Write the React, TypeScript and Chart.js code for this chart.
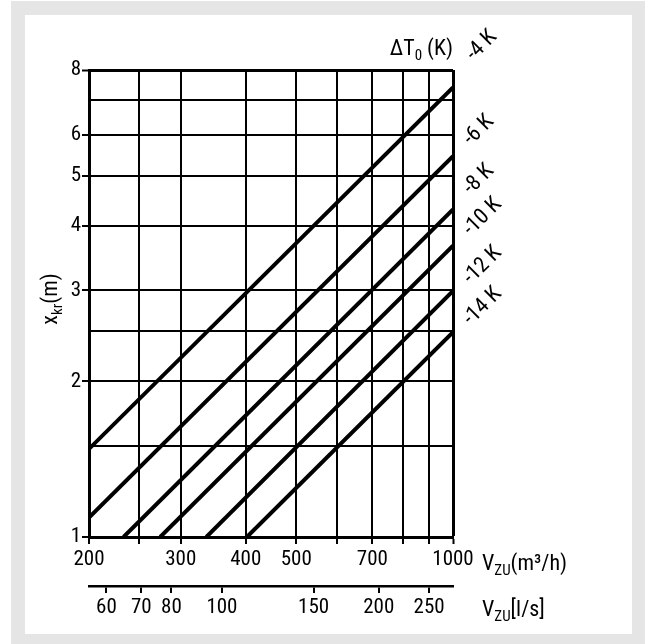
import React, { useEffect, useRef } from "react";
import { Chart, registerables } from "chart.js";

Chart.register(...registerables);

// ---- data ----
const deltaLabels = ["-4 K", "-6 K", "-8 K", "-10 K", "-12 K", "-14 K"];
const flowStart = [200, 200, 233, 274, 336, 402]; // m³/h
const xkrStart = [1.48, 1.09, 1, 1, 1, 1]; // m
const flowEnd = [1000, 1000, 1000, 1000, 1000, 1000]; // m³/h
const xkrEnd = [7.4, 5.45, 4.3, 3.66, 2.99, 2.49]; // m

const flowTicks = [200, 250, 300, 400, 500, 600, 700, 800, 900, 1000];
const flowLabels = [200, 300, 400, 500, 700, 1000];
const xkrTicks = [1, 1.5, 2, 2.5, 3, 4, 5, 6, 7, 8];
const xkrLabels = [1, 2, 3, 4, 5, 6, 8];
const lsTicks = [60, 70, 80, 100, 150, 200, 250];
const M3H_PER_LS = 3.6;
const FLOW_MIN = 200;
const FLOW_MAX = 1000;
const XKR_MIN = 1;
const XKR_MAX = 8;

const FONT = "'Roboto Condensed', 'Liberation Sans Narrow', 'DejaVu Sans Condensed', sans-serif";
const FS = 21;
const TS = 22;

type Part = { t: string; sub?: boolean };

function drawRich(ctx: CanvasRenderingContext2D, parts: Part[], x: number, yMid: number, align: "left" | "right" | "center") {
  const main = `${TS}px ${FONT}`;
  const small = `${Math.round(TS * 0.68)}px ${FONT}`;
  let total = 0;
  const widths = parts.map((p) => {
    ctx.font = p.sub ? small : main;
    const w = ctx.measureText(p.t).width;
    total += w;
    return w;
  });
  let cx = align === "left" ? x : align === "right" ? x - total : x - total / 2;
  const base = yMid + TS * 0.36;
  ctx.textAlign = "left";
  ctx.textBaseline = "alphabetic";
  parts.forEach((p, i) => {
    ctx.font = p.sub ? small : main;
    ctx.fillText(p.t, cx, base + (p.sub ? TS * 0.24 : 0));
    cx += widths[i];
  });
}

const LABEL_DX = [17, 14, 14, 14, 14, 14];
const LABEL_DY = [-30, -14, -18, -13, -10, -10];

const annotate = {
  id: "annotate",
  afterDraw(chart: any) {
    const { ctx, chartArea, scales } = chart;
    const yS = scales.y;
    ctx.save();
    ctx.fillStyle = "#000";
    drawRich(ctx, [{ t: "\u0394T" }, { t: "0", sub: true }, { t: " (K)" }], chartArea.right, 47, "right");
    drawRich(ctx, [{ t: "V" }, { t: "ZU", sub: true }, { t: "(m\u00B3/h)" }], chartArea.right + 29, 562, "left");
    drawRich(ctx, [{ t: "V" }, { t: "ZU", sub: true }, { t: "[l/s]" }], chartArea.right + 29, 608, "left");
    ctx.save();
    ctx.translate(49, 299);
    ctx.rotate(-Math.PI / 2);
    drawRich(ctx, [{ t: "x" }, { t: "kr", sub: true }, { t: "(m)" }], 0, 0, "center");
    ctx.restore();
    deltaLabels.forEach((lab, i) => {
      const px = chartArea.right + LABEL_DX[i];
      const py = yS.getPixelForValue(xkrEnd[i]) + LABEL_DY[i];
      ctx.save();
      ctx.translate(px, py);
      ctx.rotate(-Math.PI / 4);
      ctx.font = `${TS}px ${FONT}`;
      ctx.textAlign = "left";
      ctx.textBaseline = "middle";
      ctx.fillText(lab, 0, 0);
      ctx.restore();
    });
    ctx.restore();
  },
};

export default function App() {
  const ref = useRef<HTMLCanvasElement | null>(null);
  useEffect(() => {
    if (!ref.current) return;
    const datasets = deltaLabels.map((lab, i) => ({
      label: lab,
      data: [
        { x: flowStart[i], y: xkrStart[i] },
        { x: flowEnd[i], y: xkrEnd[i] },
      ],
      borderColor: "#000",
      backgroundColor: "#000",
      borderWidth: 4,
      pointRadius: 0,
      xAxisID: "x",
      yAxisID: "y",
    }));
    const tickFont = { family: FONT, size: FS };
    const chart = new Chart(ref.current, {
      type: "line",
      data: { datasets },
      plugins: [annotate],
      options: {
        responsive: false,
        animation: false,
        devicePixelRatio: 1,
        layout: { padding: { top: 70, left: 0, right: 195, bottom: 18 } },
        plugins: { legend: { display: false }, tooltip: { enabled: false } },
        scales: {
          x: {
            type: "logarithmic",
            position: "bottom",
            weight: 0,
            min: FLOW_MIN,
            max: FLOW_MAX,
            afterBuildTicks: (s: any) => {
              s.ticks = flowTicks.map((v) => ({ value: v }));
            },
            afterFit: (s: any) => {
              s.height = 49;
            },
            ticks: {
              autoSkip: false,
              maxRotation: 0,
              color: "#000",
              font: tickFont,
              padding: 3,
              callback: (v: any) => (flowLabels.includes(Number(v)) ? String(v) : ""),
            },
            grid: {
              color: "#000",
              lineWidth: (c: any) => (c.tick && c.tick.value === FLOW_MAX ? 3 : 2),
              tickLength: 7,
              tickWidth: 2,
            },
            border: { color: "#000", width: 3 },
          },
          x2: {
            type: "logarithmic",
            position: "bottom",
            weight: 1,
            min: FLOW_MIN / M3H_PER_LS,
            max: FLOW_MAX / M3H_PER_LS,
            afterBuildTicks: (s: any) => {
              s.ticks = lsTicks.map((v) => ({ value: v }));
            },
            afterFit: (s: any) => {
              s.height = 40;
            },
            ticks: {
              autoSkip: false,
              maxRotation: 0,
              color: "#000",
              font: tickFont,
              padding: 2,
              callback: (v: any) => String(v),
            },
            grid: { drawOnChartArea: false, color: "#000", lineWidth: 2, tickLength: 7 },
            border: { color: "#000", width: 2.5 },
          },
          y: {
            type: "logarithmic",
            position: "left",
            min: XKR_MIN,
            max: XKR_MAX,
            afterBuildTicks: (s: any) => {
              s.ticks = xkrTicks.map((v) => ({ value: v }));
            },
            afterFit: (s: any) => {
              s.width = 89;
            },
            ticks: {
              autoSkip: false,
              color: "#000",
              font: tickFont,
              padding: 1,
              callback: (v: any) => (xkrLabels.includes(Number(v)) ? String(v) : ""),
            },
            grid: {
              color: "#000",
              lineWidth: (c: any) => (c.tick && c.tick.value === XKR_MAX ? 3 : 2),
              tickColor: (c: any) => (c.tick && xkrLabels.includes(c.tick.value) ? "#000" : "rgba(0,0,0,0)"),
              tickLength: 7,
              tickWidth: 2,
            },
            border: { color: "#000", width: 3 },
          },
        },
      },
    } as any);
    return () => chart.destroy();
  }, []);

  return (
    <div style={{ position: "absolute", left: 0, top: 0, width: 648, height: 644, overflow: "hidden" }}>
      <div style={{ position: "absolute", left: 11, top: 1, width: 634, height: 643, background: "#e5e5e5" }} />
      <div style={{ position: "absolute", left: 25, top: 15, width: 607, height: 619, background: "#fff" }} />
      <canvas ref={ref} width={648} height={644} style={{ position: "absolute", left: 0, top: 0, width: 648, height: 644 }} />
    </div>
  );
}
